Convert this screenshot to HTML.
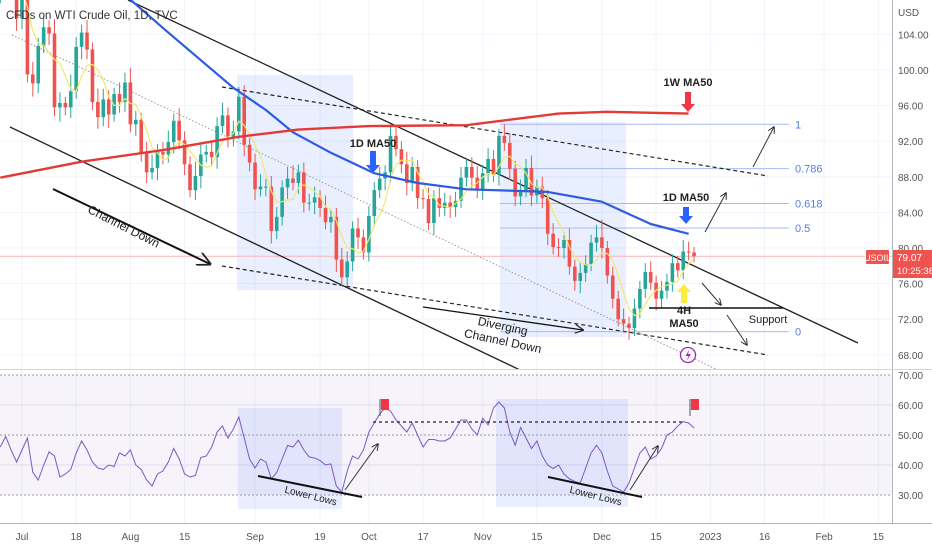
<!DOCTYPE html>
<html><head><meta charset="utf-8"><style>
html,body{margin:0;padding:0;background:#fff;}
body{width:932px;height:550px;overflow:hidden;font-family:"Liberation Sans",sans-serif;}
svg text{font-family:"Liberation Sans",sans-serif;}
</style></head><body>
<svg id="chart" width="932" height="550" viewBox="0 0 932 550" xmlns="http://www.w3.org/2000/svg">
<defs>
<clipPath id="pclip"><rect x="0" y="0" width="892" height="369"/></clipPath>
<clipPath id="rclip"><rect x="0" y="370" width="892" height="153"/></clipPath>
<marker id="ah" viewBox="0 0 10 10" refX="9" refY="5" markerWidth="7" markerHeight="7" orient="auto"><path d="M0,0 L10,5 L0,10" fill="none" stroke="#222" stroke-width="1.3"/></marker>
</defs>
<g id="grid"></g>
<g id="boxes"></g>
<g id="price" clip-path="url(#pclip)"></g>
<g id="rsi" clip-path="url(#rclip)"></g>
<g id="axes"></g>
<g id="ann"></g>
</svg>
<script>
// ---- data ----
const closes=[109.6,111.8,109.8,105.8,
108.4,99.5,98.5,102.7,104.8,104.1,95.8,96.3,95.8,97.6,102.6,104.2,102.3,96.4,94.7,96.7,95.0,97.3,96.4,98.6,
93.9,94.4,90.7,88.5,89.0,90.8,90.5,91.9,94.3,92.1,89.4,86.5,88.1,90.5,90.8,90.2,93.7,94.9,92.5,93.1,97.0,91.6,89.6,
86.6,86.9,86.9,81.9,83.5,86.8,87.8,87.3,88.5,85.1,85.1,85.7,84.5,82.9,83.5,78.7,76.7,78.5,82.2,81.2,79.5,
83.6,86.5,87.8,88.5,92.6,91.1,89.4,87.3,89.1,85.6,85.5,82.8,85.6,84.5,85.1,84.6,85.3,87.9,89.1,87.9,86.5,
88.4,90.0,88.2,92.6,91.8,88.9,85.8,86.5,89.0,85.9,86.9,85.6,81.6,80.1,80.0,80.9,77.9,76.3,77.2,78.2,80.6,
81.2,80.0,76.9,74.3,72.0,71.5,71.0,73.2,75.4,77.3,76.1,74.3,75.2,76.2,78.3,77.5,79.6,79.5,79.07];
const firstOpen=108.5;
const wickUp=[1.2,0.8,1.5,0.9,1.1,2.0,1.4,0.9,1.3,0.8,1.6,1.2,0.7,1.9,1.1,0.9,1.4,0.8,1.5,1.2,1.0,0.7,1.3,1.1,
1.6,1.0,0.8,1.2,1.5,0.9,1.1,1.3,0.8,1.4,1.0,0.9,1.6,1.1,0.8,1.2,1.0,1.4,0.9,1.2,1.1,1.3,0.8,
1.0,1.4,0.9,1.2,1.1,0.8,1.3,1.5,0.9,1.1,1.0,1.2,0.8,1.4,0.9,1.0,1.3,1.1,0.8,1.2,0.9,
1.1,0.9,1.3,0.8,1.2,1.0,0.9,1.4,1.1,0.8,1.0,1.3,0.9,1.2,1.1,0.8,1.0,1.2,0.9,1.1,1.3,
0.9,1.2,1.0,0.8,1.3,1.1,0.9,1.2,1.0,1.4,0.8,1.1,0.9,1.2,1.0,0.9,1.3,0.8,1.1,1.0,0.9,
1.4,2.0,0.8,1.0,0.9,1.2,0.8,1.1,0.9,1.0,1.2,0.8,1.1,0.9,1.0,0.8,1.3,1.1,0.6];
const wickDn=[1.0,1.3,0.8,1.4,1.2,0.9,1.5,1.1,0.8,1.3,1.0,1.6,0.9,1.2,0.8,1.4,1.1,0.9,1.3,1.0,1.5,0.8,1.2,1.1,
0.9,1.3,1.0,1.2,0.8,1.4,1.1,0.9,1.3,1.0,1.2,0.8,1.1,1.4,0.9,1.0,1.3,0.8,1.2,1.1,0.9,1.3,1.0,
1.2,0.8,1.1,1.4,0.9,1.0,1.3,0.8,1.2,1.1,0.9,1.3,1.0,0.8,1.2,1.4,1.0,0.9,1.1,1.3,0.8,
1.0,1.2,0.9,1.3,1.1,0.8,1.0,1.4,0.9,1.2,1.1,0.8,1.3,1.0,0.9,1.2,1.1,0.8,1.0,1.3,0.9,
1.1,1.0,0.8,1.2,0.9,1.3,1.1,1.0,0.8,1.2,0.9,1.1,1.3,0.8,1.0,1.2,0.9,1.1,1.4,1.0,0.8,
1.0,1.2,0.9,1.1,0.8,1.0,1.3,0.9,1.1,1.0,0.8,1.3,1.0,0.9,1.1,0.8,1.0,0.9,0.7];
const rsiValues=[46,49.5,45,41,45,49,37.6,35,40,44.4,43,36,37,38.5,44,48,45,41,39,38.5,40,39.5,44,43,45,40,38.5,35,33,37,38,41,45.5,42,37,36,36.5,42.5,43,46,51,53,49,52,56,49,42,39,42,41,35.4,37.5,42,46.5,46,48.3,45,42.7,42.3,41.5,40,40.4,33,31,38,43,42,45,51,54,57,59,58,55,53,51,54,50,46,48.5,48.5,48,48,49,52,55,55,52,50,55.6,53.4,59,61,59,51,46.6,52.5,49,45.5,48,43,40,38.8,40,37,35.4,34.5,34,39,44,46.6,44,38,33,32,31,34,39,44,46,42,43,45.5,50,51,53,54.5,54,52.3];
const ma1dBars=[24,31,37,43,49,54,61,69,77,86,101,111,120,127];
const ma1dVals=[107.9,104.2,101.1,98,95.5,93,90.7,88.4,87.3,86.6,86.3,85.2,82.7,81.6];
const ma1wBars=[0,15,30,44,55,68,86,103,112,127];
const ma1wVals=[87.9,89.7,91.0,92.5,93.3,93.7,93.8,95.1,95.3,95.1];
const priceTicks=[104,100,96,92,88,84,80,76,72,68];
const rsiTicks=[70,60,50,40,30];
const timeLabels=["Jul","18","Aug","15","Sep","19","Oct","17","Nov","15","Dec","15","2023","16","Feb","15"];
const timeLabelBars=[4,14,24,34,47,59,68,78,89,99,111,121,131,141,152,162];
const fibLevels=[1,0.786,0.618,0.5,0];
const fibHigh=93.9, fibLow=70.6;

// ---- scales ----
const NS="http://www.w3.org/2000/svg";
const xB=b=>0.3+5.42*b;
const yP=p=>248-(p-80)*8.9;
const yR=r=>435-(r-50)*3;
function mk(parent,tag,attrs,txt){const e=document.createElementNS(NS,tag);for(const k in attrs)e.setAttribute(k,attrs[k]);if(txt!==undefined)e.textContent=txt;parent.appendChild(e);return e;}
const G=id=>document.getElementById(id);
const grid=G('grid'),price=G('price'),rsi=G('rsi'),axes=G('axes'),ann=G('ann'),boxes=G('boxes');

// grid
priceTicks.forEach(p=>{const l=mk(grid,'line',{x1:0,x2:892,y1:yP(p),y2:yP(p),stroke:'#f0f3fa','stroke-width':1});

});
rsiTicks.forEach(r=>{if(r===60||r===40){const l=mk(grid,'line',{x1:0,x2:892,y1:yR(r),y2:yR(r),stroke:'#e8e6f3','stroke-width':1});

}});
timeLabelBars.forEach(b=>{const l=mk(grid,'line',{x1:xB(b),x2:xB(b),y1:0,y2:523,stroke:'#f0f3fa','stroke-width':1});

});

// rsi band
const band=mk(rsi,'rect',{x:0,y:yR(70),width:892,height:yR(30)-yR(70),fill:'rgba(126,87,194,0.07)'});


[70,50,30].forEach(r=>{const l=mk(rsi,'line',{x1:0,x2:892,y1:yR(r),y2:yR(r),stroke:'#9598a1','stroke-width':1,'stroke-dasharray':'2,2'});

});

// highlight boxes
[[237,75,116,215],[500,122,126,215],[238,408,104,101],[496,399,132,108]].forEach((r,i)=>{
const e=mk(boxes,'rect',{x:r[0],y:r[1],width:r[2],height:r[3],fill:'rgba(41,98,255,0.10)'});

});

// current price line
const cpl=mk(price,'line',{x1:0,x2:892,y1:yP(79.07),y2:yP(79.07),stroke:'#f7b4b8','stroke-width':1});



// fib
fibLevels.forEach(f=>{const p=fibLow+(fibHigh-fibLow)*f;const y=yP(p);
const l=mk(price,'line',{x1:500,x2:789,y1:y,y2:y,stroke:'#a9b9f2','stroke-width':1});


const t=mk(ann,'text',{x:795,y:y+4,'font-size':11,fill:'#5b7be0'},String(f));

});

// trend lines
function line(parent,x1,y1,x2,y2,st,w,dash,name,marker){const a={x1,y1,x2,y2,stroke:st,'stroke-width':w};if(dash)a['stroke-dasharray']=dash;if(marker)a['marker-end']='url(#ah)';const l=mk(parent,'line',a);return l;}
line(price,12,35,720,371,'#999',1,'1.5,2','midline-dotted');
line(price,128,0,858,343,'#222',1.3,null,'channel-upper-line');
line(price,10,127,520,370,'#222',1.3,null,'channel-lower-line');
line(price,222,87,768,176,'#222',1.2,'4,3','diverging-upper-dashed');
line(price,222,266,768,355,'#222',1.2,'4,3','diverging-lower-dashed');

// candles
for(let i=0;i<closes.length;i++){
 const o=i===0?firstOpen:closes[i-1],c=closes[i];
 const hi=Math.max(o,c)+wickUp[i],lo=Math.min(o,c)-wickDn[i];
 const col=c>=o?'#26a69a':'#ef5350';const x=xB(i);
 const g=mk(price,'g',{});
 
 
 mk(g,'line',{x1:x,x2:x,y1:yP(hi),y2:yP(lo),stroke:col,'stroke-width':1});
 const top=yP(Math.max(o,c)),h=Math.max(1,yP(Math.min(o,c))-top);
 mk(g,'rect',{x:x-1.8,y:top,width:3.6,height:h,fill:col});
}
// yellow 4H MA (smoothed closes)
let yp='';for(let i=4;i<closes.length;i++){let s=0;for(let k=0;k<5;k++)s+=closes[i-k];yp+=(yp?'L':'M')+xB(i).toFixed(1)+','+yP(s/5).toFixed(1);}
const ym=mk(price,'path',{d:yp,fill:'none',stroke:'#f2e86a','stroke-width':1.2});


function smooth(bars,vals,yf){let d='';bars.forEach((b,i)=>{d+=(i?'L':'M')+xB(b).toFixed(1)+','+yf(vals[i]).toFixed(1);});return d;}
const bm=mk(price,'path',{d:smooth(ma1dBars,ma1dVals,yP),fill:'none',stroke:'#2f5be0','stroke-width':2.2,'stroke-linejoin':'round'});


const rm=mk(price,'path',{d:smooth(ma1wBars,ma1wVals,yP),fill:'none',stroke:'#e53935','stroke-width':2.4,'stroke-linejoin':'round'});



// rsi line
let rp='';rsiValues.forEach((v,i)=>{rp+=(i?'L':'M')+xB(i).toFixed(1)+','+yR(v).toFixed(1);});
const rl=mk(rsi,'path',{d:rp,fill:'none',stroke:'#7e57c2','stroke-width':1});


line(rsi,373,422,682,422,'#222',1.2,'3,3','rsi-resistance-dashed');
line(rsi,258,476,362,497,'#111',2,null,'rsi-lower-lows-1');
line(rsi,548,477,642,497,'#111',2,null,'rsi-lower-lows-2');
line(rsi,345,490,378,444,'#333',1,null,'rsi-arrow-1',true);
line(rsi,630,490,658,446,'#333',1,null,'rsi-arrow-2',true);

// axes
const ax=mk(axes,'line',{x1:892.5,x2:892.5,y1:0,y2:523,stroke:'#b2b5be','stroke-width':1});


const sep=mk(axes,'line',{x1:0,x2:932,y1:369.5,y2:369.5,stroke:'#d1d4dc','stroke-width':1});


const bx=mk(axes,'line',{x1:0,x2:932,y1:523.5,y2:523.5,stroke:'#b2b5be','stroke-width':1});


const usd=mk(axes,'text',{x:898,y:16,'font-size':10,fill:'#555'},'USD');


priceTicks.forEach(p=>{const t=mk(axes,'text',{x:898,y:yP(p)+4,'font-size':10,fill:'#555'},p.toFixed(2));

});
rsiTicks.forEach(r=>{const t=mk(axes,'text',{x:898,y:yR(r)+4,'font-size':10,fill:'#555'},r.toFixed(2));

});
timeLabels.forEach((s,i)=>{const t=mk(axes,'text',{x:xB(timeLabelBars[i]),y:540,'font-size':10,fill:'#555','text-anchor':'middle'},s);

});
// price badges
const ub=mk(axes,'rect',{x:866,y:250,width:23,height:14,fill:'#ef5350',rx:1});


mk(axes,'text',{x:877.5,y:261,'font-size':9,fill:'#fff','text-anchor':'middle'},'USOIL');
const pb=mk(axes,'rect',{x:893,y:250,width:39,height:28,fill:'#ef5350'});


mk(axes,'text',{x:897,y:261,'font-size':10,fill:'#fff'},'79.07');
mk(axes,'text',{x:897,y:274,'font-size':9.5,fill:'#fff'},'10:25:38');

// annotations
function txt(x,y,s,opts,name){const a={x,y,'font-size':11,fill:'#222','font-weight':'bold','text-anchor':'middle'};Object.assign(a,opts||{});const t=mk(ann,'text',a,s);return t;}
const title=mk(ann,'text',{x:6,y:19,'font-size':11.5,fill:'#333'},'CFDs on WTI Crude Oil, 1D, TVC');


txt(688,86,'1W MA50',{},'label-1w-ma50');
txt(373,147,'1D MA50',{},'label-1d-ma50-oct');
txt(686,201,'1D MA50',{},'label-1d-ma50-dec');
txt(684,314,'4H',{},'label-4h');
txt(684,327,'MA50',{},'label-ma50-4h');
txt(768,323,'Support',{'font-weight':'normal'},'label-support');
function arrow(x,y1,y2,col,name){const dir=y2>y1?1:-1;const sh=dir*8;
const d=`M${x-3},${y1} L${x+3},${y1} L${x+3},${y2-sh} L${x+7},${y2-sh} L${x},${y2} L${x-7},${y2-sh} L${x-3},${y2-sh} Z`;
const p=mk(ann,'path',{d,fill:col});}
arrow(688,92,112,'#f23645','arrow-1w-ma50');
arrow(373,151,173,'#2962ff','arrow-1d-ma50-oct');
arrow(686,207,224,'#2962ff','arrow-1d-ma50-dec');
arrow(684,303,284,'#ffeb3b','arrow-4h-ma50');
line(ann,53,189,210,264,'#111',2,null,'channel-down-arrow',true);
const cd=txt(0,0,'Channel Down',{'font-weight':'normal','font-size':12,transform:'translate(122,230) rotate(27)'},'label-channel-down');
line(ann,423,307,583,330,'#111',1.3,null,'diverging-arrow',true);
txt(0,0,'Diverging',{'font-weight':'normal','font-size':12,transform:'translate(502,330) rotate(12)'},'label-diverging');
txt(0,0,'Channel Down',{'font-weight':'normal','font-size':12,transform:'translate(502,345) rotate(12)'},'label-diverging-channel-down');
txt(0,0,'Lower Lows',{'font-weight':'normal','font-size':10,transform:'translate(310,499) rotate(14)'},'label-lower-lows-1');
txt(0,0,'Lower Lows',{'font-weight':'normal','font-size':10,transform:'translate(595,499) rotate(14)'},'label-lower-lows-2');
line(ann,649,308,783,308,'#111',1.5,null,'support-line');
line(ann,702,283,721,305,'#333',1,null,'arrow-down-1',true);
line(ann,727,315,747,345,'#333',1,null,'arrow-down-2',true);
line(ann,705,232,726,193,'#333',1,null,'arrow-up-1',true);
line(ann,753,167,774,127,'#333',1,null,'arrow-up-2',true);
// flags
[[380,399],[690,399]].forEach((f,i)=>{const g=mk(ann,'g',{});
mk(g,'line',{x1:f[0],x2:f[0],y1:f[1],y2:f[1]+17,stroke:'#555','stroke-width':1});
mk(g,'rect',{x:f[0]+1,y:f[1],width:8,height:11,fill:'#f23645'});});
// lightning icon
const li=mk(ann,'g',{});
mk(li,'circle',{cx:688,cy:355,r:7.5,fill:'#fff',stroke:'#9c27b0','stroke-width':1.3});
mk(li,'path',{d:'M689.5,349.5 L685.5,356 L688.5,356 L686.5,361 L691,354 L688,354 Z',fill:'#9c27b0'});
</script>
</body></html>
